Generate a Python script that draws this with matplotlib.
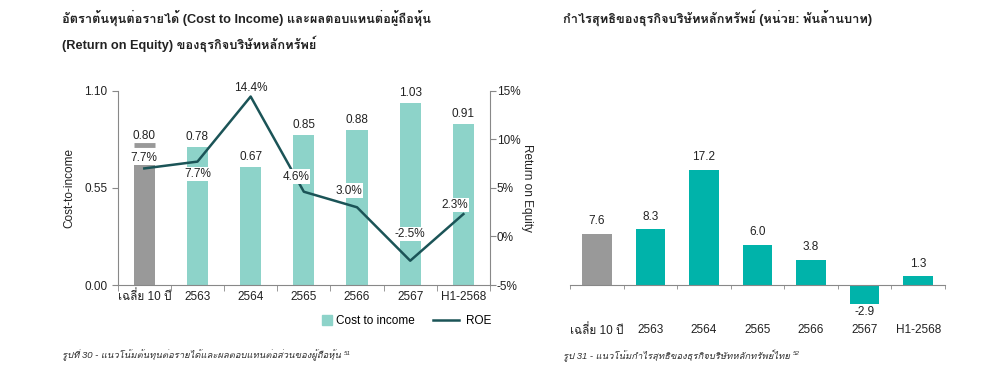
import matplotlib
matplotlib.use("Agg")
import matplotlib.pyplot as plt
from matplotlib import font_manager as fm
from matplotlib.ft2font import FT2Font
from matplotlib.lines import Line2D
from matplotlib.text import Annotation

# ---- find a font with Thai glyphs ----
def find_thai():
    names = []
    for f in fm.fontManager.ttflist:
        try:
            cm = FT2Font(f.fname).get_charmap()
            if 0x0E01 in cm and 0x0E40 in cm:
                names.append(f.name)
        except Exception:
            pass
    return names

thai = find_thai()
FAMILY = ["Liberation Sans"] + thai[:1] + ["DejaVu Sans"]
plt.rcParams["font.family"] = FAMILY

# ---- data ----
categories = ["เฉลี่ย 10 ปี", "2563", "2564", "2565", "2566", "2567", "H1-2568"]
cost_income = [0.69, 0.78, 0.67, 0.85, 0.88, 1.03, 0.91]
cost_labels = ["0.80", "0.78", "0.67", "0.85", "0.88", "1.03", "0.91"]
avg_marker = 0.79
roe = [7.0, 7.7, 14.4, 4.6, 3.0, -2.5, 2.3]
roe_labels = ["7.7%", "7.7%", "14.4%", "4.6%", "3.0%", "-2.5%", "2.3%"]
net_profit = [7.6, 8.3, 17.2, 6.0, 3.8, -2.9, 1.3]

GRAY = "#999999"
TEAL_L = "#8DD3C9"
TEAL = "#00B3AA"
LINE = "#1B5457"
AX = "#888888"
TXT = "#222222"
FS = 8.5

fig = plt.figure(figsize=(10, 3.79), dpi=100)

# ---- left chart ----
ax = fig.add_axes([0.1177, 0.248, 0.3723, 0.5127])
x = list(range(len(categories)))
colors = [GRAY] + [TEAL_L] * (len(categories) - 1)
ax.bar(x, cost_income, width=0.4, color=colors, zorder=2)
ax.plot([-0.2, 0.2], [avg_marker, avg_marker], color=GRAY, lw=3.5, solid_capstyle="butt", zorder=3)
ax.set_xlim(-0.5, len(categories) - 0.5)
ax.set_ylim(0, 1.10)
ax.set_yticks([0, 0.55, 1.10])
ax.set_yticklabels(["0.00", "0.55", "1.10"])
ax.set_xticks(x)
ax.set_xticklabels(categories)
ax.set_xticks([i - 0.5 for i in range(len(categories) + 1)], minor=True)
ax.tick_params(axis="x", which="major", length=0, pad=4, labelsize=FS, colors=TXT)
ax.tick_params(axis="x", which="minor", length=4, color=AX)
ax.tick_params(axis="y", length=4, color=AX, labelsize=FS, labelcolor=TXT)
for s in ["top", "right"]:
    ax.spines[s].set_visible(False)
for s in ["left", "bottom"]:
    ax.spines[s].set_color(AX)
ax.set_ylabel("Cost-to-income", fontsize=FS, labelpad=6, color=TXT)
for i, (v, lab) in enumerate(zip(cost_income, cost_labels)):
    yy = avg_marker if i == 0 else v
    ax.text(i, yy + 0.022, lab, ha="center", va="bottom", fontsize=FS, color=TXT)

ax2 = ax.twinx()
ax2.set_ylim(-5, 15)
ax2.set_yticks([15, 10, 5, 0, -5])
ax2.set_yticklabels(["15%", "10%", "5%", "0%", "-5%"])
ax2.tick_params(axis="y", length=4, color=AX, labelsize=FS, labelcolor=TXT, pad=1)
for s in ["top", "left", "bottom"]:
    ax2.spines[s].set_visible(False)
ax2.spines["right"].set_color(AX)
ax2.plot(x, roe, color=LINE, lw=1.8, zorder=3)
ax2.set_ylabel("Return on Equity", fontsize=FS, rotation=270, labelpad=9, color=TXT)
offs = [(0, 1.1), (0, -1.26), (0, 0.9), (-0.15, 1.56), (-0.16, 1.72), (0, 2.75), (-0.16, 0.93)]
for i, (v, lab) in enumerate(zip(roe, roe_labels)):
    dx, dy = offs[i]
    ax2.text(i + dx, v + dy, lab, ha="center", va="center", fontsize=FS, color=TXT,
             bbox=dict(boxstyle="square,pad=0.1", fc="white", ec="none"), zorder=4)

h1 = [Line2D([0], [0], marker="s", ls="none", markersize=6.5, color=TEAL_L, label="Cost to income")]
h2 = [Line2D([0], [0], color=LINE, lw=1.8, label="ROE")]
fig.legend(handles=h1, loc="center left", bbox_to_anchor=(0.322, 0.153), frameon=False,
           fontsize=FS, handlelength=0.8, handletextpad=0.4, borderaxespad=0, borderpad=0)
fig.legend(handles=h2, loc="center left", bbox_to_anchor=(0.433, 0.153), frameon=False,
           fontsize=FS, handlelength=2.2, handletextpad=0.6, borderaxespad=0, borderpad=0)

# ---- right chart ----
bx = fig.add_axes([0.570, 0.182, 0.375, 0.5805])
colors2 = [GRAY] + [TEAL] * (len(categories) - 1)
bx.bar(x, net_profit, width=0.55, color=colors2, zorder=2)
bx.set_xlim(-0.5, len(categories) - 0.5)
bx.set_ylim(-3.74, 29.15)
bx.set_yticks([])
for s in ["top", "right", "left"]:
    bx.spines[s].set_visible(False)
bx.spines["bottom"].set_position(("data", 0))
bx.spines["bottom"].set_color(AX)
bx.set_xticks(x)
bx.set_xticklabels(categories)
bx.set_xticks([i - 0.5 for i in range(len(categories) + 1)], minor=True)
bx.tick_params(axis="x", which="major", length=0, pad=28, labelsize=FS, colors=TXT)
bx.tick_params(axis="x", which="minor", length=3, color=AX)
for i, v in enumerate(net_profit):
    if v >= 0:
        bx.text(i, v + 1.0, f"{v:.1f}", ha="center", va="bottom", fontsize=FS, color=TXT)
    else:
        bx.text(i, v - 0.3, f"{v:.1f}", ha="center", va="top", fontsize=FS, color=TXT)

# ---- titles and captions ----
TS = 9.2
fig.text(0.062, 0.952, "อัตราต้นทุนต่อรายได้ (Cost to Income) และผลตอบแทนต่อผู้ถือหุ้น",
         fontsize=TS, fontweight="bold", va="center", color=TXT)
fig.text(0.062, 0.884, "(Return on Equity) ของธุรกิจบริษัทหลักทรัพย์",
         fontsize=TS, fontweight="bold", va="center", color=TXT)
fig.text(0.563, 0.952, "กำไรสุทธิของธุรกิจบริษัทหลักทรัพย์ (หน่วย: พันล้านบาท)",
         fontsize=TS, fontweight="bold", va="center", color=TXT)
cap1 = fig.text(0.062, 0.062, "รูปที่ 30 - แนวโน้มต้นทุนต่อรายได้และผลตอบแทนต่อส่วนของผู้ถือหุ้น",
                fontsize=6.8, style="italic", va="center", color="#333333")
cap2 = fig.text(0.563, 0.062, "รูป 31 - แนวโน้มกำไรสุทธิของธุรกิจบริษัทหลักทรัพย์ไทย",
                fontsize=6.8, style="italic", va="center", color="#333333")
for cap, sup in ((cap1, "51"), (cap2, "52")):
    fig.add_artist(Annotation(sup, xy=(1, 0.85), xycoords=cap, xytext=(2, 0),
                              textcoords="offset points", fontsize=4.5, style="italic",
                              color="#333333", va="top", ha="left"))

fig.savefig("out.png", dpi=100)
